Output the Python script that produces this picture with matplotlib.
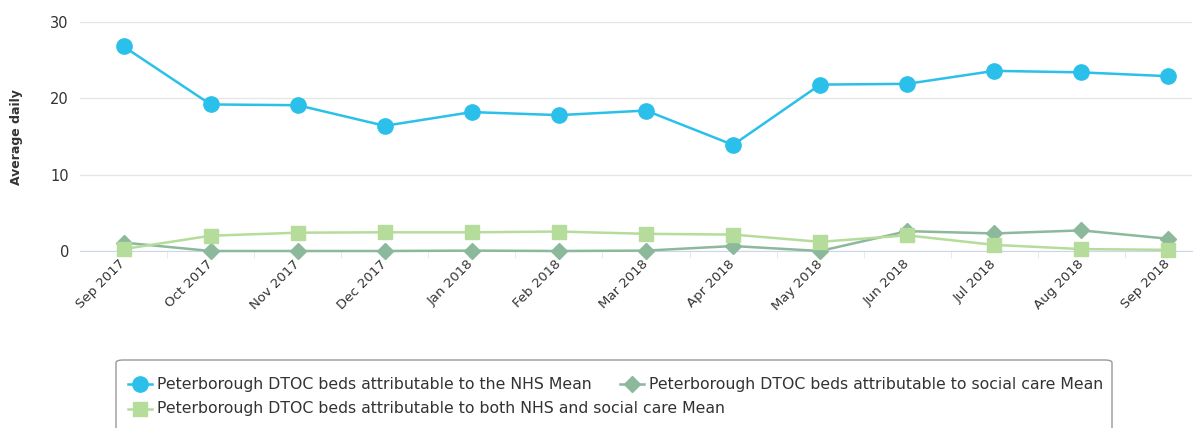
import matplotlib
matplotlib.use("Agg")
import matplotlib.pyplot as plt
from matplotlib.lines import Line2D
from matplotlib.patches import FancyBboxPatch
import numpy as np

months = ["Sep 2017", "Oct 2017", "Nov 2017", "Dec 2017", "Jan 2018", "Feb 2018",
          "Mar 2018", "Apr 2018", "May 2018", "Jun 2018", "Jul 2018", "Aug 2018", "Sep 2018"]
nhs = [26.8, 19.2, 19.1, 16.4, 18.2, 17.8, 18.4, 13.9, 21.8, 21.9, 23.6, 23.4, 22.9]
social = [1.1, 0.0, 0.0, 0.0, 0.05, 0.0, 0.05, 0.65, 0.0, 2.6, 2.3, 2.7, 1.6]
both = [0.25, 2.0, 2.4, 2.45, 2.45, 2.55, 2.25, 2.15, 1.2, 2.05, 0.8, 0.25, 0.15]

labels = ["Peterborough DTOC beds attributable to the NHS Mean",
          "Peterborough DTOC beds attributable to social care Mean",
          "Peterborough DTOC beds attributable to both NHS and social care Mean"]

c_nhs = "#2bc0e9"
c_soc = "#8cb89b"
c_both = "#b5dc9b"

W, H = 1201, 428
fig = plt.figure(figsize=(W/100, H/100), dpi=100)
left, right, top, bottom = 80, 1192, 22, 251
ax = fig.add_axes([left/W, 1-bottom/H, (right-left)/W, (bottom-top)/H])

x = np.arange(len(months))
ax.plot(x, social, color=c_soc, lw=1.8, marker="D", ms=8, clip_on=False, zorder=3)
ax.plot(x, both, color=c_both, lw=1.8, marker="s", ms=10.5, clip_on=False, zorder=3)
ax.plot(x, nhs, color=c_nhs, lw=1.8, marker="o", ms=11, clip_on=False, zorder=4)

ax.set_ylim(0, 30)
ax.set_xlim(-0.5, 12.27)
ax.set_yticks([0, 10, 20, 30])
ax.yaxis.grid(True, color="#e6e6e6", lw=1)
ax.set_axisbelow(True)
for s in ["top", "right", "left"]:
    ax.spines[s].set_visible(False)
ax.spines["bottom"].set_color("#ccd6eb")
ax.tick_params(axis="y", length=0, labelsize=10.5, labelcolor="#333333", pad=8)
ax.set_xticks(x)
ax.set_xticklabels(months, rotation=45, ha="right", va="center", rotation_mode="anchor",
                   fontsize=9.5, color="#333333")
ax.tick_params(axis="x", which="major", length=0, pad=8)
ax.set_xticks(x[:-1] + 0.5, minor=True)
ax.tick_params(axis="x", which="minor", length=5, color="#e6e6e6")
fig.text(17/W, 1-137/H, "Average daily", rotation=90, ha="center", va="center",
         fontsize=9, fontweight="bold", color="#333333")

# manual legend (flow layout)
frame = FancyBboxPatch((116/W, 1-445/H), (1112-116)/W, (445-360)/H,
                       boxstyle="round,pad=0,rounding_size=0.006",
                       transform=fig.transFigure, facecolor="white",
                       edgecolor="#999999", lw=1)
fig.patches.append(frame)

items = [
    (labels[0], c_nhs, "o", 11, 140, 384),
    (labels[1], c_soc, "D", 8, 632, 384),
    (labels[2], c_both, "s", 10.5, 140, 409),
]
for lab, col, mk, ms, cx, cy in items:
    fy = 1 - cy/H
    fig.add_artist(Line2D([(cx-12)/W, (cx+12)/W], [fy, fy], color=col, lw=1.8,
                          transform=fig.transFigure))
    fig.add_artist(Line2D([cx/W], [fy], color=col, marker=mk, ms=ms, lw=0,
                          transform=fig.transFigure))
    fig.text((cx+17)/W, fy, lab, ha="left", va="center", fontsize=11.3, color="#333333")

fig.savefig("out.png", dpi=100)
